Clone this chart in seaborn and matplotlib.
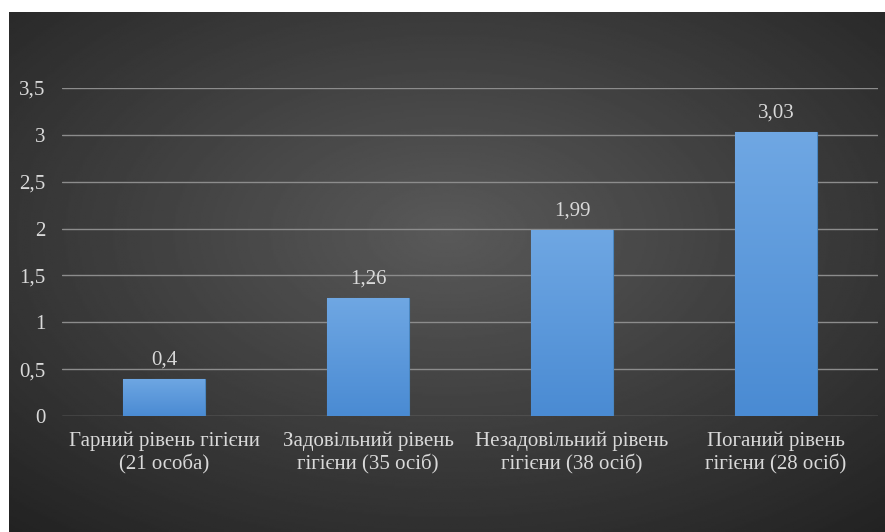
import seaborn as sns
import matplotlib.pyplot as plt
import numpy as np
import pandas as pd

categories = ['Гарний рівень гігієни\n(21 особа)',
              'Задовільний рівень\nгігієни (35 осіб)',
              'Незадовільний рівень\nгігієни (38 осіб)',
              'Поганий рівень\nгігієни (28 осіб)']
values = [0.4, 1.26, 1.99, 3.03]
value_labels = ['0,4', '1,26', '1,99', '3,03']
yticks = [0, 0.5, 1, 1.5, 2, 2.5, 3, 3.5]
ytick_labels = ['0', '0,5', '1', '1,5', '2', '2,5', '3', '3,5']

sns.set_theme(style='dark')
plt.rcParams['font.family'] = ['Liberation Serif', 'DejaVu Serif']
txt = '#d9d9d9'

fig = plt.figure(figsize=(8.85, 5.32), dpi=100)
fig.patch.set_facecolor('white')

# radial gradient background
bg = fig.add_axes([9/885, 0, 1 - 9/885, 1 - 12/532])
gy, gx = np.mgrid[-1:1:300j, -1:1:500j]
r = np.sqrt(gx**2 + (gy + 0.15)**2) / np.sqrt(2)
bg.imshow(0.35 - 0.2 * r, cmap='gray', vmin=0, vmax=1, aspect='auto',
          extent=[0, 1, 0, 1])
bg.set_axis_off()

ax = fig.add_axes([62/885, 1 - 416/532, 816/885, (416 - 88)/532])
ax.patch.set_alpha(0)
df = pd.DataFrame({'cat': categories, 'val': values})
sns.barplot(data=df, x='cat', y='val', ax=ax, color='#5b9bd5', width=0.4,
            saturation=1, edgecolor='#4a86c0', linewidth=0.8, zorder=3)

# vertical gradient fill inside each bar
grad = np.linspace(0, 1, 100).reshape(-1, 1)
from matplotlib.colors import LinearSegmentedColormap
bar_cmap = LinearSegmentedColormap.from_list('bar', ['#4a8bd3', '#6fa7e3'])
for p in ax.patches:
    x0, y0 = p.get_x(), p.get_y()
    w, h = p.get_width(), p.get_height()
    im = ax.imshow(grad, cmap=bar_cmap, aspect='auto', origin='lower',
                   extent=[x0, x0 + w, y0, y0 + h], zorder=3.5)
    im.set_clip_path(p)

for i, (v, lab) in enumerate(zip(values, value_labels)):
    ax.text(i, v + 0.1, lab, ha='center', va='bottom', color=txt, fontsize=15)

ax.set_ylim(0, 3.5)
ax.set_xlim(-0.5, 3.5)
ax.set_yticks(yticks)
ax.set_yticklabels(ytick_labels, color=txt, fontsize=15)
ax.set_xticks(range(len(categories)))
ax.set_xticklabels(categories, color=txt, fontsize=15, linespacing=1.25)
ax.tick_params(axis='both', length=0)
ax.tick_params(axis='x', pad=11)
ax.tick_params(axis='y', pad=12)
ax.set_xlabel('')
ax.set_ylabel('')
ax.grid(axis='y', color='#8c8c8c', linewidth=1, zorder=0)
for s in ax.spines.values():
    s.set_visible(False)

fig.savefig('out.png', dpi=100)
